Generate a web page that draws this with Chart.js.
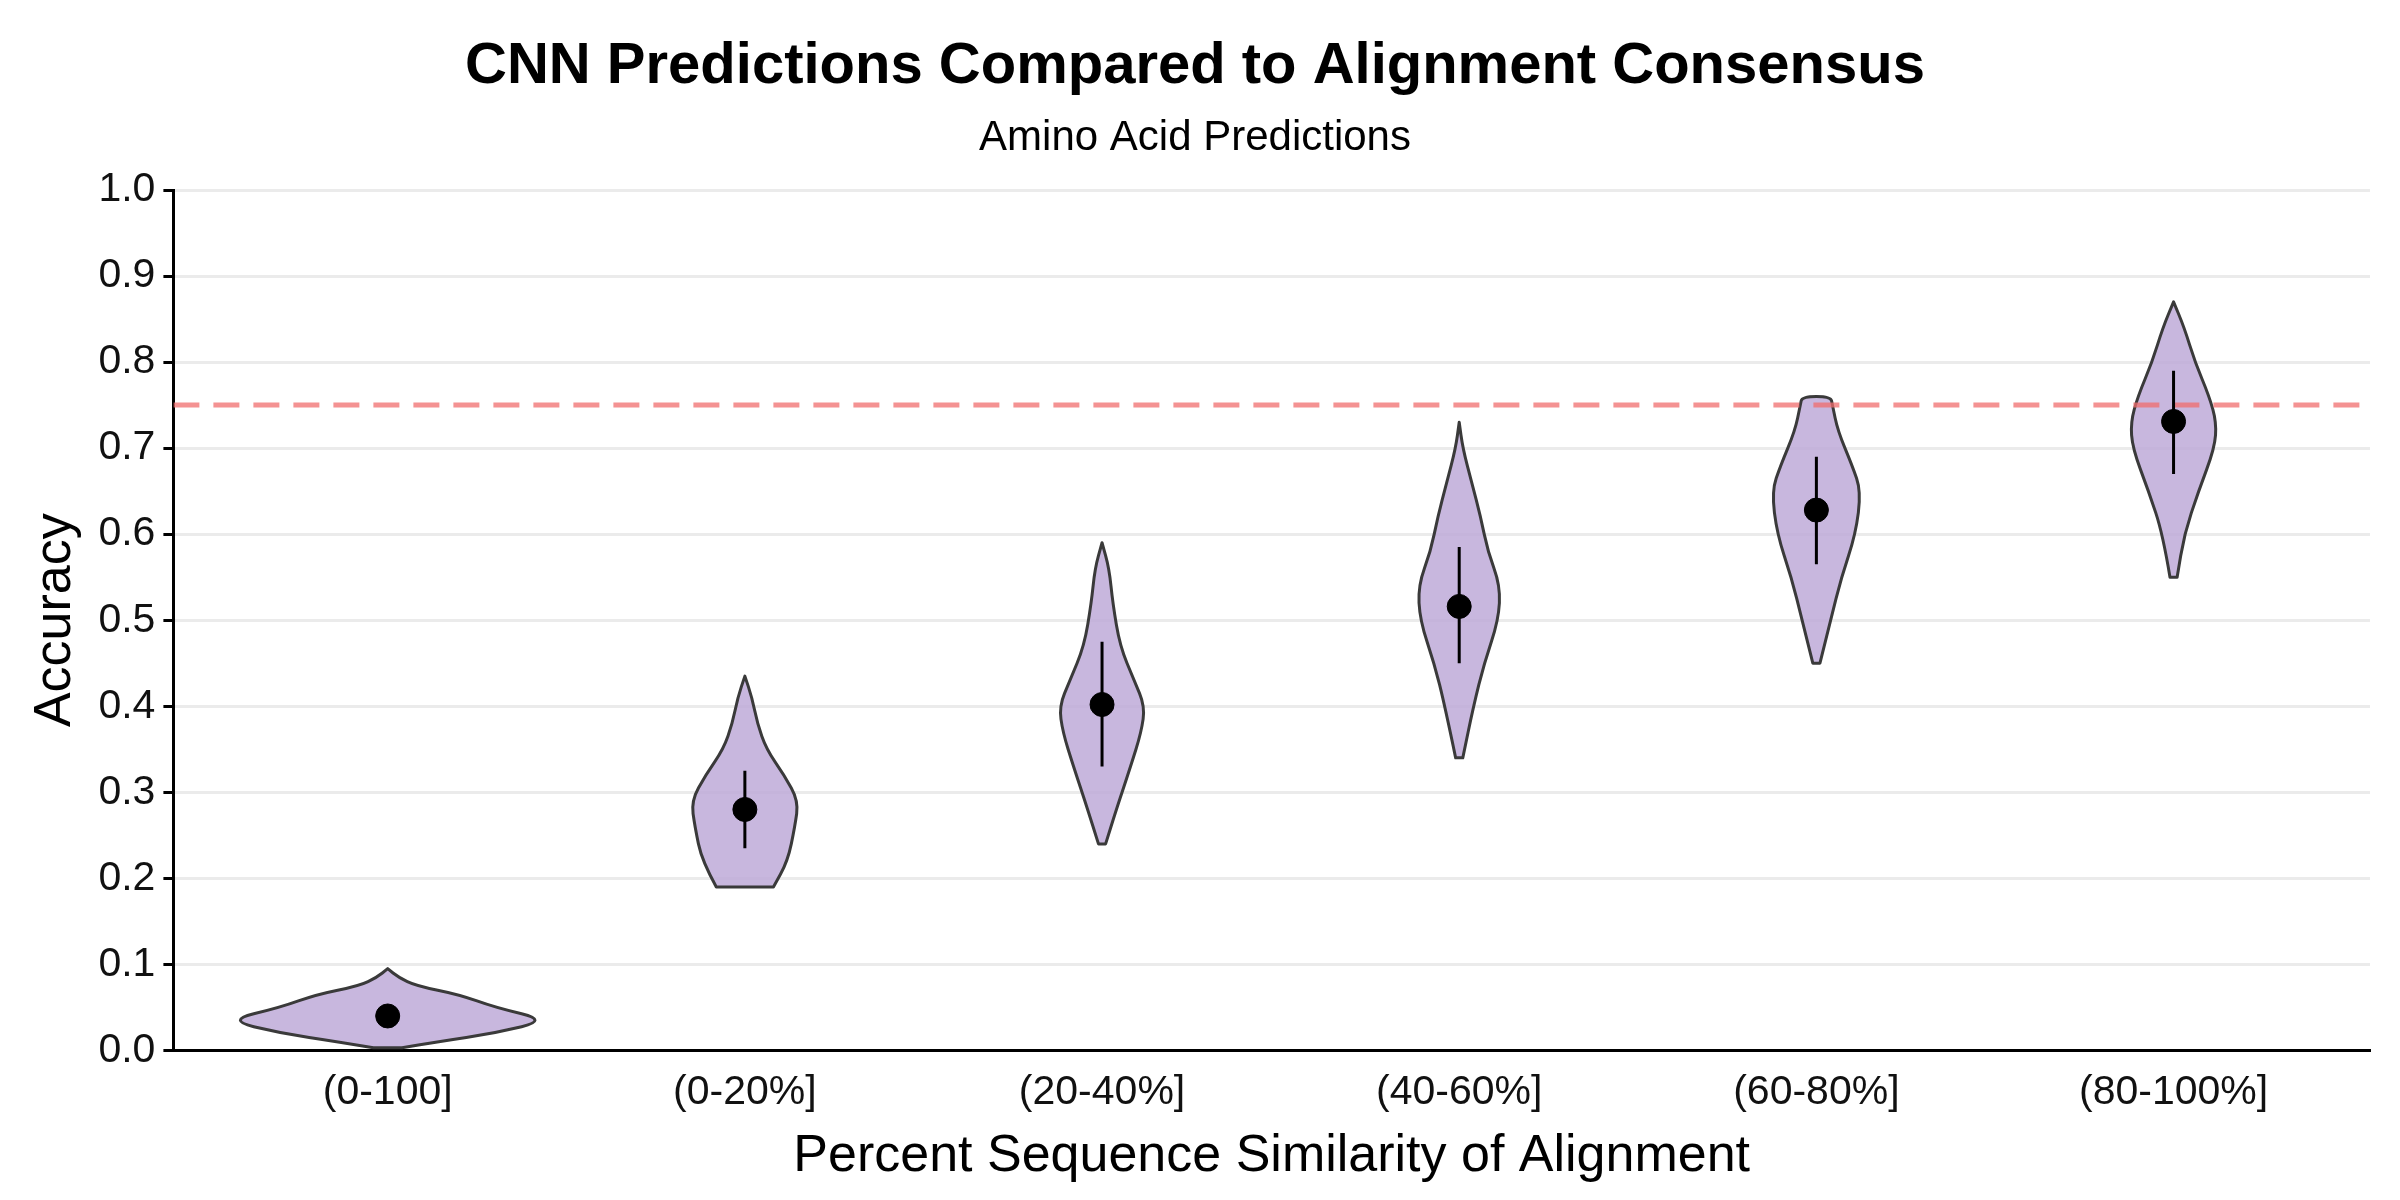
<!DOCTYPE html>
<html><head><meta charset="utf-8">
<script src="https://cdn.jsdelivr.net/npm/chart.js@4/dist/chart.umd.min.js"></script>
<style>html,body{margin:0;background:#fff}#wrap{width:2400px;height:1200px}</style>
</head><body><div id="wrap"><canvas id="c"></canvas></div>
<script>
// categories and summary values
const categories = ['(0-100]', '(0-20%]', '(20-40%]', '(40-60%]', '(60-80%]', '(80-100%]'];
const means = [0.04, 0.28, 0.402, 0.516, 0.628, 0.731];
const errLow = [0.03, 0.235, 0.33, 0.45, 0.565, 0.67];
const errHigh = [0.05, 0.325, 0.475, 0.585, 0.69, 0.79];
const threshold = 0.75;

// violin outlines: accuracy levels and half widths (in category units)
const violinY = [
  [0.003, 0.01, 0.02, 0.035, 0.05, 0.065, 0.075, 0.085, 0.095],
  [0.19, 0.22, 0.26, 0.29, 0.32, 0.35, 0.38, 0.41, 0.435],
  [0.24, 0.28, 0.33, 0.37, 0.40, 0.43, 0.47, 0.52, 0.56, 0.59],
  [0.34, 0.40, 0.45, 0.50, 0.54, 0.58, 0.62, 0.66, 0.70, 0.73],
  [0.45, 0.50, 0.55, 0.60, 0.65, 0.68, 0.72, 0.75, 0.76],
  [0.55, 0.60, 0.65, 0.70, 0.73, 0.76, 0.80, 0.84, 0.87]
];
const violinW = [
  [0.04, 0.14, 0.3, 0.45, 0.3, 0.2, 0.08, 0.03, 0.0],
  [0.08, 0.12, 0.14, 0.15, 0.11, 0.06, 0.035, 0.02, 0.0],
  [0.01, 0.04, 0.08, 0.11, 0.12, 0.09, 0.05, 0.03, 0.02, 0.0],
  [0.01, 0.04, 0.07, 0.11, 0.115, 0.08, 0.06, 0.035, 0.01, 0.0],
  [0.01, 0.04, 0.07, 0.11, 0.125, 0.10, 0.06, 0.045, 0.04],
  [0.01, 0.03, 0.07, 0.115, 0.12, 0.10, 0.06, 0.03, 0.0]
];
const yTicks = [0, 0.1, 0.2, 0.3, 0.4, 0.5, 0.6, 0.7, 0.8, 0.9, 1.0];

// smooth path through points using midpoints as curve anchors
function smoothPath(ctx, pts) {
  ctx.moveTo(pts[0][0], pts[0][1]);
  for (let k = 1; k < pts.length - 1; k++) {
    const mx = (pts[k][0] + pts[k + 1][0]) / 2, my = (pts[k][1] + pts[k + 1][1]) / 2;
    ctx.quadraticCurveTo(pts[k][0], pts[k][1], mx, my);
  }
  const last = pts[pts.length - 1];
  ctx.lineTo(last[0], last[1]);
}

const violinPlugin = {
  id: 'violins',
  beforeDatasetsDraw(chart) {
    const { ctx, scales: { x, y } } = chart;
    ctx.save();
    violinY.forEach((ys, i) => {
      const ws = violinW[i];
      const pts = [];
      ys.forEach((v, k) => pts.push([x.getPixelForValue(i - ws[k]), y.getPixelForValue(v)]));
      for (let k = ys.length - 1; k >= 0; k--) pts.push([x.getPixelForValue(i + ws[k]), y.getPixelForValue(ys[k])]);
      ctx.beginPath();
      smoothPath(ctx, pts);
      ctx.closePath();
      ctx.fillStyle = 'rgba(190,170,216,0.85)';
      ctx.fill();
      ctx.lineWidth = 3;
      ctx.lineJoin = 'round';
      ctx.strokeStyle = '#3a3a3a';
      ctx.stroke();
    });
    ctx.restore();
  }
};

const datasets = [];
categories.forEach((c, i) => {
  datasets.push({
    type: 'line', data: [{ x: i, y: errLow[i] }, { x: i, y: errHigh[i] }],
    borderColor: '#000', borderWidth: 3, pointRadius: 0
  });
});
datasets.push({
  type: 'scatter', data: means.map((m, i) => ({ x: i, y: m })),
  backgroundColor: '#000', borderColor: '#000', pointRadius: 12
});
datasets.push({
  type: 'line', data: [{ x: -0.6, y: threshold }, { x: 5.55, y: threshold }],
  borderColor: 'rgba(240,110,110,0.75)', borderWidth: 5, borderDash: [26, 14], pointRadius: 0
});

new Chart(document.getElementById('c'), {
  type: 'scatter',
  data: { datasets },
  plugins: [violinPlugin],
  options: {
    responsive: true, maintainAspectRatio: false, animation: false, devicePixelRatio: 1,
    layout: { padding: { left: 20, right: 30, top: 10, bottom: 8 } },
    plugins: {
      legend: { display: false }, tooltip: { enabled: false },
      title: { display: true, text: 'CNN Predictions Compared to Alignment Consensus', color: '#000',
        font: { family: 'Liberation Sans', size: 58, weight: 'bold' }, padding: { top: 22, bottom: 12 } },
      subtitle: { display: true, text: 'Amino Acid Predictions', color: '#000',
        font: { family: 'Liberation Sans', size: 42 }, padding: { bottom: 26 } }
    },
    scales: {
      x: {
        type: 'linear', min: -0.6, max: 5.55,
        afterBuildTicks: ax => { ax.ticks = categories.map((_, i) => ({ value: i })); },
        ticks: { callback: v => categories[v], color: '#111', font: { family: 'Liberation Sans', size: 41 }, padding: 8 },
        grid: { display: false, drawTicks: true, tickLength: 10, tickColor: '#000' },
        border: { color: '#000', width: 3 },
        title: { display: true, text: 'Percent Sequence Similarity of Alignment', color: '#000',
          font: { family: 'Liberation Sans', size: 52 }, padding: { top: 0 } }
      },
      y: {
        min: 0, max: 1,
        afterBuildTicks: ax => { ax.ticks = yTicks.map(v => ({ value: v })); },
        ticks: { callback: v => v.toFixed(1), color: '#111', font: { family: 'Liberation Sans', size: 41 }, padding: 8 },
        grid: { color: '#ebebeb', lineWidth: 3, tickLength: 10, tickColor: '#000' },
        border: { color: '#000', width: 3 },
        title: { display: true, text: 'Accuracy', color: '#000', font: { family: 'Liberation Sans', size: 52 } }
      }
    }
  }
});
</script></body></html>
